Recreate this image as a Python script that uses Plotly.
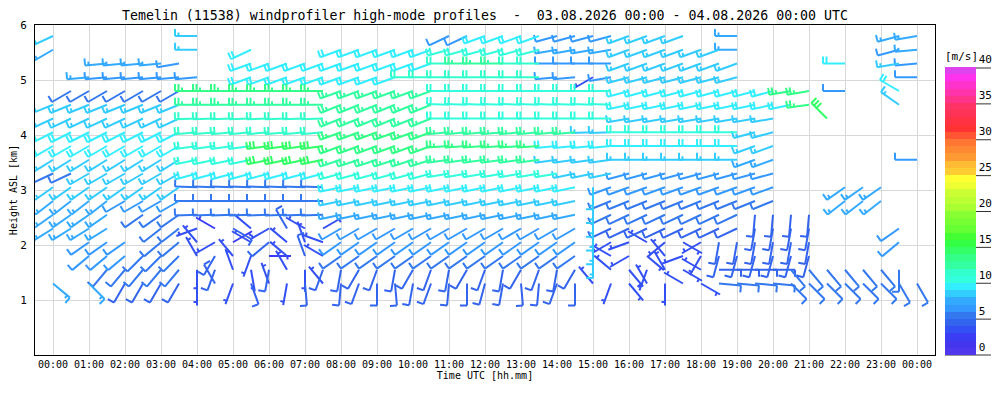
import math
import plotly.graph_objects as go

N = None

# profile times (hours after 03.08.2026 00:00 UTC) and gate heights (km ASL)
times = [0, 0.5, 1, 1.5, 2, 2.5, 3, 3.5, 4, 4.5, 5, 5.5, 6, 6.5, 7, 7.5, 8, 8.5, 9, 9.5,
         10, 10.5, 11, 11.5, 12, 12.5, 13, 13.5, 14, 14.5, 15, 15.5, 16, 16.5, 17, 17.5,
         18, 18.5, 19, 19.5, 20, 20.5, 21, 21.5, 22, 22.5, 23, 23.5, 24]
heights = [1.3, 1.55, 1.8, 2.05, 2.3, 2.55, 2.8, 3.05, 3.3, 3.55, 3.8, 4.05, 4.3, 4.55,
           4.8, 5.05, 5.3, 5.55, 5.8]

# wind speed [m/s] and direction [deg] per gate, one value per profile time
s580 = [8,N,N,N,N,N,N, N,8,N,N,N,N,N, N,N,N,N,N,N,N, N,6,6,9,9,9,9, 6,6,6,6,8,8,8, 8,N,N,7,N,N,N, N,N,N,N,N,7,7]
d580 = [245,N,N,N,N,N,N, N,270,N,N,N,N,N, N,N,N,N,N,N,N, N,245,245,250,250,250,250, 255,255,255,255,250,250,250, 250,N,N,270,N,N,N, N,N,N,N,N,255,260]
s555 = [7,N,N,N,N,N,N, N,8,N,N,9,N,N, N,N,9,9,9,9,9, 9,10,10,10,10,10,10, 7,7,7,7,8,8,8, 8,8,8,7,N,N,N, N,N,N,N,N,6,7]
d555 = [240,N,N,N,N,N,N, N,270,N,N,245,N,N, N,N,250,250,250,250,250, 250,255,255,255,255,255,255, 260,260,260,260,250,250,250, 250,250,250,270,N,N,N, N,N,N,N,N,255,265]
s530 = [N,N,N,7,7,7,7, 6,N,N,N,9,9,9, 9,9,9,9,9,9,9, 9,11,12,12,12,11,11, 6,6,6,6,8,8,8, 8,8,8,8,N,N,N, N,N,9,N,N,8,6]
d530 = [N,N,N,265,265,265,265, 260,N,N,N,250,250,250, 250,250,250,250,250,250,250, 250,270,270,270,270,270,270, 270,270,270,270,250,250,250, 250,250,250,250,N,N,N, N,N,270,N,N,260,265]
s505 = [N,N,7,6,6,6,6, 6,6,N,N,9,9,9, 9,9,9,9,9,9,11, 11,11,11,11,11,11,11, 6,6,3,6,8,8,8, 8,8,8,8,N,N,N, N,N,N,N,N,N,6]
d505 = [N,N,265,265,265,265,265, 265,265,N,N,250,250,250, 250,250,250,250,250,250,270, 270,270,270,270,270,270,270, 265,265,240,260,255,255,255, 255,255,255,255,N,N,N, N,N,N,N,N,N,270]
s480 = [N,5,5,5,5,5,5, 5,13,13,13,13,13,13, 13,13,12,12,12,12,12, 12,10,10,10,10,10,10, 10,10,10,10,9,9,9, 9,9,9,9,9,9,13, 13,N,6,N,N,9,N]
d480 = [N,240,240,240,240,240,240, 240,270,270,270,270,270,270, 270,270,250,250,250,250,250, 250,270,270,270,270,270,270, 270,270,270,270,255,255,255, 255,255,255,255,255,255,260, 260,N,270,N,N,300,N]
s455 = [8,8,8,8,8,8,8, 8,12,12,12,12,12,12, 12,12,12,12,12,12,12, 12,10,10,10,10,10,10, 10,10,10,10,9,9,9, 9,9,9,9,9,9,9, 13,N,N,N,N,8,N]
d455 = [248,248,248,248,248,248,248, 248,270,270,270,270,270,270, 270,270,248,248,248,248,248, 248,272,272,272,272,272,272, 272,272,272,272,258,258,258, 258,258,258,258,258,258,258, 262,N,N,N,N,305,N]
s430 = [8,8,8,8,8,8,8, 8,11,11,11,11,11,11, 11,11,12,12,12,12,12, 12,10,10,10,10,10,10, 10,10,10,10,8,8,8, 8,8,8,8,8,8,N, N,14,N,N,N,N,N]
d430 = [245,245,245,245,245,245,245, 245,268,268,268,268,268,268, 268,268,248,248,248,248,248, 248,270,270,270,270,270,270, 270,270,270,270,260,260,260, 260,260,260,260,260,260,N, N,315,N,N,N,N,N]
s405 = [9,9,9,9,9,9,9, 9,11,11,11,11,11,11, 11,11,13,13,13,13,13, 13,12,12,12,12,12,12, 12,12,8,8,10,10,10, 10,10,10,10,8,8,N, N,N,N,N,N,N,N]
d405 = [243,243,243,243,243,243,243, 243,265,265,265,265,265,265, 265,265,250,250,250,250,250, 250,265,265,265,265,265,265, 265,265,268,268,270,270,270, 270,270,270,270,255,255,N, N,N,N,N,N,N,N]
s380 = [9,9,9,9,9,9,9, 9,10,10,10,10,14,14, 14,14,13,13,13,13,13, 13,13,13,13,13,13,13, 9,9,9,9,9,9,9, 9,9,9,9,8,8,N, N,N,N,N,N,N,N]
d380 = [240,240,240,240,240,240,240, 240,262,262,262,262,262,262, 262,262,250,250,250,250,250, 250,266,266,266,266,266,266, 265,265,265,265,270,270,270, 270,270,270,270,250,250,N, N,N,N,N,N,N,N]
s355 = [8,8,8,8,8,8,8, 8,10,10,10,10,14,14, 14,14,12,12,12,12,12, 12,12,12,12,12,12,12, 8,8,8,8,8,8,8, 8,8,8,8,7,7,N, N,N,N,N,N,N,6]
d355 = [238,238,238,238,238,238,238, 238,258,258,258,258,258,258, 258,258,252,252,252,252,252, 252,262,262,262,262,262,262, 262,262,262,262,270,270,270, 270,270,270,270,250,250,N, N,N,N,N,N,N,270]
s330 = [5,5,8,8,8,8,8, 8,9,9,9,9,9,9, 9,9,10,10,10,10,10, 10,10,10,10,10,10,10, 10,8,8,8,6,6,6, 6,6,6,6,6,6,N, N,N,N,N,N,N,N]
d330 = [245,245,240,240,240,240,240, 240,255,255,255,255,255,255, 255,255,255,255,255,255,255, 255,260,260,260,260,260,260, 260,258,258,258,255,255,255, 255,255,255,255,255,255,N, N,N,N,N,N,N,N]
s305 = [8,8,8,8,8,8,8, 8,5,5,5,5,5,5, 5,5,9,9,9,9,9, 9,9,9,9,9,9,9, 9,9,8,6,6,6,6, 6,6,6,6,6,6,N, N,N,7,7,7,N,N]
d305 = [235,235,235,235,235,235,235, 235,272,272,272,272,272,272, 272,272,258,258,258,258,258, 258,258,258,258,258,258,258, 258,258,180,250,250,250,250, 250,250,250,250,250,250,N, N,N,235,235,235,N,N]
s280 = [7,7,7,7,6,6,6, 6,5,5,5,5,5,5, 5,5,8,8,8,8,8, 8,8,8,8,8,8,8, 8,8,8,5,5,5,5, 5,5,5,5,5,5,N, N,N,7,7,7,N,N]
d280 = [232,232,232,232,240,240,240, 240,270,270,270,270,270,270, 270,270,258,258,258,258,258, 258,258,258,258,258,258,258, 258,258,180,248,248,248,248, 248,248,248,248,248,248,N, N,N,232,232,232,N,N]
s255 = [7,7,7,7,N,5,5, 5,5,5,5,5,5,5, 5,5,7,7,7,7,7, 7,7,7,7,7,7,7, 7,7,8,5,5,5,5, 5,5,5,5,4,4,4, 4,N,N,N,N,N,N]
d255 = [235,235,235,235,N,235,235, 235,268,268,268,268,268,268, 268,268,258,258,258,258,258, 258,258,258,258,258,258,258, 258,258,180,245,245,245,245, 245,245,245,245,185,185,185, 185,N,N,N,N,N,N]
s230 = [7,7,7,7,N,N,5, 5,3,2,4,3,3,4, 3,3,6,6,6,6,6, 6,6,6,6,6,6,6, 6,6,8,4,4,4,4, 4,4,4,4,4,4,4, 4,N,N,N,N,6,N]
d230 = [238,238,238,238,N,N,232, 232,250,300,120,310,240,330, 300,60,240,240,240,240,240, 240,240,240,240,240,240,240, 240,240,180,245,245,245,245, 245,245,245,245,190,190,190, 190,N,N,N,N,235,N]
s205 = [N,N,6,6,6,N,5, 5,3,3,2,3,4,3, 3,3,6,6,6,6,6, 6,6,6,6,6,6,6, 6,6,8,3,3,3,3, 3,3,4,4,4,4,4, 4,N,N,N,N,6,N]
d205 = [N,N,235,235,235,N,230, 230,320,240,60,300,230,310, 340,290,235,235,235,235,235, 235,235,235,235,235,235,235, 235,235,180,240,250,300,230, 120,240,190,190,190,190,190, 190,N,N,N,N,230,N]
s180 = [N,N,6,6,6,5,5, 5,3,4,3,3,2,3, 4,3,5,5,5,5,5, 5,5,5,5,5,5,5, 5,5,8,3,3,3,3, 3,3,4,4,4,4,4, 4,N,N,N,N,N,N]
d180 = [N,N,230,230,230,225,225, 225,330,210,320,200,90,310, 340,300,235,235,235,235,235, 235,235,235,235,235,235,235, 235,235,180,300,240,130,320, 250,210,195,195,195,195,195, 195,N,N,N,N,N,N]
s155 = [N,N,N,5,5,5,5, 5,3,4,3,3,4,3, 3,4,4,4,4,4,4, 4,4,4,4,4,4,4, 4,4,N,3,3,3,3, 3,3,4,4,4,4,5, 5,5,5,5,5,5,N]
d155 = [N,N,N,220,220,220,220, 220,180,200,340,170,190,330, 180,200,190,210,200,190,210, 200,190,210,200,190,210,200, 190,210,N,310,140,200,330, 120,300,90,90,90,90,140, 140,140,140,140,140,180,N]
s130 = [7,N,7,N,4,4,4, 4,3,4,3,4,3,3, 4,3,4,4,4,4,4, 4,4,4,4,4,4,4, 4,4,3,3,3,3,3, 3,3,5,5,5,5,5, 5,5,5,5,5,5,5]
d130 = [130,N,135,N,210,210,210, 210,180,330,200,160,340,190, 175,320,185,200,180,175,190, 200,185,180,195,190,175,185, 200,180,320,200,140,330,180, 300,120,95,95,95,95,135, 135,135,135,135,135,150,150]

speed_rows = [s130, s155, s180, s205, s230, s255, s280, s305, s330, s355,
              s380, s405, s430, s455, s480, s505, s530, s555, s580]
dir_rows = [d130, d155, d180, d205, d230, d255, d280, d305, d330, d355,
            d380, d405, d430, d455, d480, d505, d530, d555, d580]

tick_hours = list(range(25))
tick_text = ["00:00", "01:00", "02:00", "03:00", "04:00", "05:00", "06:00", "07:00",
             "08:00", "09:00", "10:00", "11:00", "12:00", "13:00", "14:00", "15:00",
             "16:00", "17:00", "18:00", "19:00", "20:00", "21:00", "22:00", "23:00", "00:00"]
cbar_ticks = [0, 5, 10, 15, 20, 25, 30, 35, 40]

# one colour per 1 m/s class, 0..40
colors = ["#4f37ee", "#4436ee", "#3b3df5", "#3350f5", "#3364ee", "#3378ee", "#3399ff", "#33aaff",
          "#33ccff", "#33eeff", "#33ffdd", "#33ffcc", "#33ffa0", "#33ff88", "#33ff66", "#33ff44",
          "#44ff33", "#66ff33", "#77ff33", "#88ff33", "#aaff33", "#bbff33", "#ccff33", "#eeff33",
          "#ffff33", "#ffcc33", "#ffbb33", "#ff9933", "#ff8833", "#ff7733", "#ff5533", "#ff3333",
          "#ff3344", "#ff3355", "#ff3366", "#ff3388", "#ff33aa", "#ff33cc", "#ff33ee", "#dd44ee"]

X0, X1, Y0, Y1 = -0.5, 24.5, 0, 6
# the page body adds an 8 px offset, so the figure is 8 px smaller with shifted margins
ML, MR, MT, MB = 27, 65, 17, 45
W, H = 992, 392
PW, PH = W - ML - MR, H - MT - MB
px_h = PW / (X1 - X0)
px_km = PH / (Y1 - Y0)

STAFF, FEATHER, GAP = 22, 7, 3.5

segs = {}


def add_seg(k, t, h, a, b):
    xs, ys = segs.setdefault(k, ([], []))
    xs += [t + a[0] / px_h, t + b[0] / px_h, None]
    ys += [h + a[1] / px_km, h + b[1] / px_km, None]


for h, srow, drow in zip(heights, speed_rows, dir_rows):
    for t, s, d in zip(times, srow, drow):
        if s is None:
            continue
        k = min(int(s), 39)
        a = math.radians(d)
        ux, uy = math.sin(a), math.cos(a)
        fx, fy = uy, -ux
        tip = (STAFF * ux, STAFF * uy)
        add_seg(k, t, h, (0, 0), tip)
        n = int(s / 2.5 + 0.5)
        full, half = divmod(n, 2)
        pos = 0
        for j in range(full):
            p = (tip[0] - pos * GAP * ux, tip[1] - pos * GAP * uy)
            add_seg(k, t, h, p, (p[0] + FEATHER * fx, p[1] + FEATHER * fy))
            pos += 1
        if half:
            if full == 0:
                pos = 1
            p = (tip[0] - pos * GAP * ux, tip[1] - pos * GAP * uy)
            add_seg(k, t, h, p, (p[0] + FEATHER / 2 * fx, p[1] + FEATHER / 2 * fy))

fig = go.Figure()
for k in sorted(segs):
    xs, ys = segs[k]
    fig.add_trace(go.Scatter(x=xs, y=ys, mode="lines", line=dict(color=colors[k], width=2),
                             hoverinfo="skip", showlegend=False))

cscale = []
for i, c in enumerate(colors):
    cscale.append([i / 40, c])
    cscale.append([(i + 1) / 40, c])

mono = "DejaVu Sans Mono"
cb_left = 10 / PW + 1
cb_right = 56 / PW + 1
bar_len = 287 / PH
cb_len = (287 + 19) / PH   # colour bar plus its title

fig.add_trace(go.Scatter(
    x=[-5], y=[-5], mode="markers", hoverinfo="skip", showlegend=False,
    marker=dict(size=1, color=[0], cmin=0, cmax=40, colorscale=cscale, showscale=True,
                colorbar=dict(x=cb_left, xanchor="left", xpad=0, y=0, yanchor="bottom", ypad=0,
                              len=cb_len, lenmode="fraction", thickness=31, thicknessmode="pixels",
                              outlinewidth=0, tickvals=cbar_ticks, ticks="",
                              ticklabelposition="outside top",
                              tickfont=dict(family=mono, size=11, color="black"),
                              title=dict(text="[m/s]", side="top",
                                         font=dict(family=mono, size=11, color="black")))),
))

for v in cbar_ticks:
    fig.add_shape(type="line", xref="paper", yref="paper", x0=cb_left, x1=cb_right,
                  y0=v / 40 * bar_len, y1=v / 40 * bar_len, line=dict(color="#333333", width=1))

fig.update_layout(
    width=W, height=H,
    margin=dict(l=ML, r=MR, t=MT, b=MB, autoexpand=False),
    paper_bgcolor="white", plot_bgcolor="white",
    title=dict(text="Temelin (11538) windprofiler high-mode profiles  -  03.08.2026 00:00 - 04.08.2026 00:00 UTC",
               x=0.5, xref="paper", xanchor="center", y=1 - 7.5 / H, yref="container", yanchor="middle",
               font=dict(family=mono, size=13.25, color="black")),
    font=dict(family=mono, size=10, color="black"),
)
fig.update_xaxes(range=[X0, X1], tickvals=tick_hours, ticktext=tick_text, showgrid=True,
                 gridcolor="#d8d8d8", gridwidth=1, zeroline=False, showline=True, linecolor="black",
                 linewidth=1, mirror=True, ticks="", tickfont=dict(family=mono, size=10),
                 automargin=False,
                 title=dict(text="Time UTC [hh.mm]", standoff=2, font=dict(family=mono, size=10)))
fig.update_yaxes(range=[Y0, Y1], tickvals=[1, 2, 3, 4, 5, 6], showgrid=True,
                 gridcolor="#d8d8d8", gridwidth=1, zeroline=False, showline=True, linecolor="black",
                 linewidth=1, mirror=True, ticks="outside", ticklen=5, tickcolor="rgba(0,0,0,0)",
                 tickfont=dict(family=mono, size=11), automargin=False,
                 title=dict(text="Height ASL [km]", standoff=4, font=dict(family=mono, size=10)))

fig.write_html("out.html")
